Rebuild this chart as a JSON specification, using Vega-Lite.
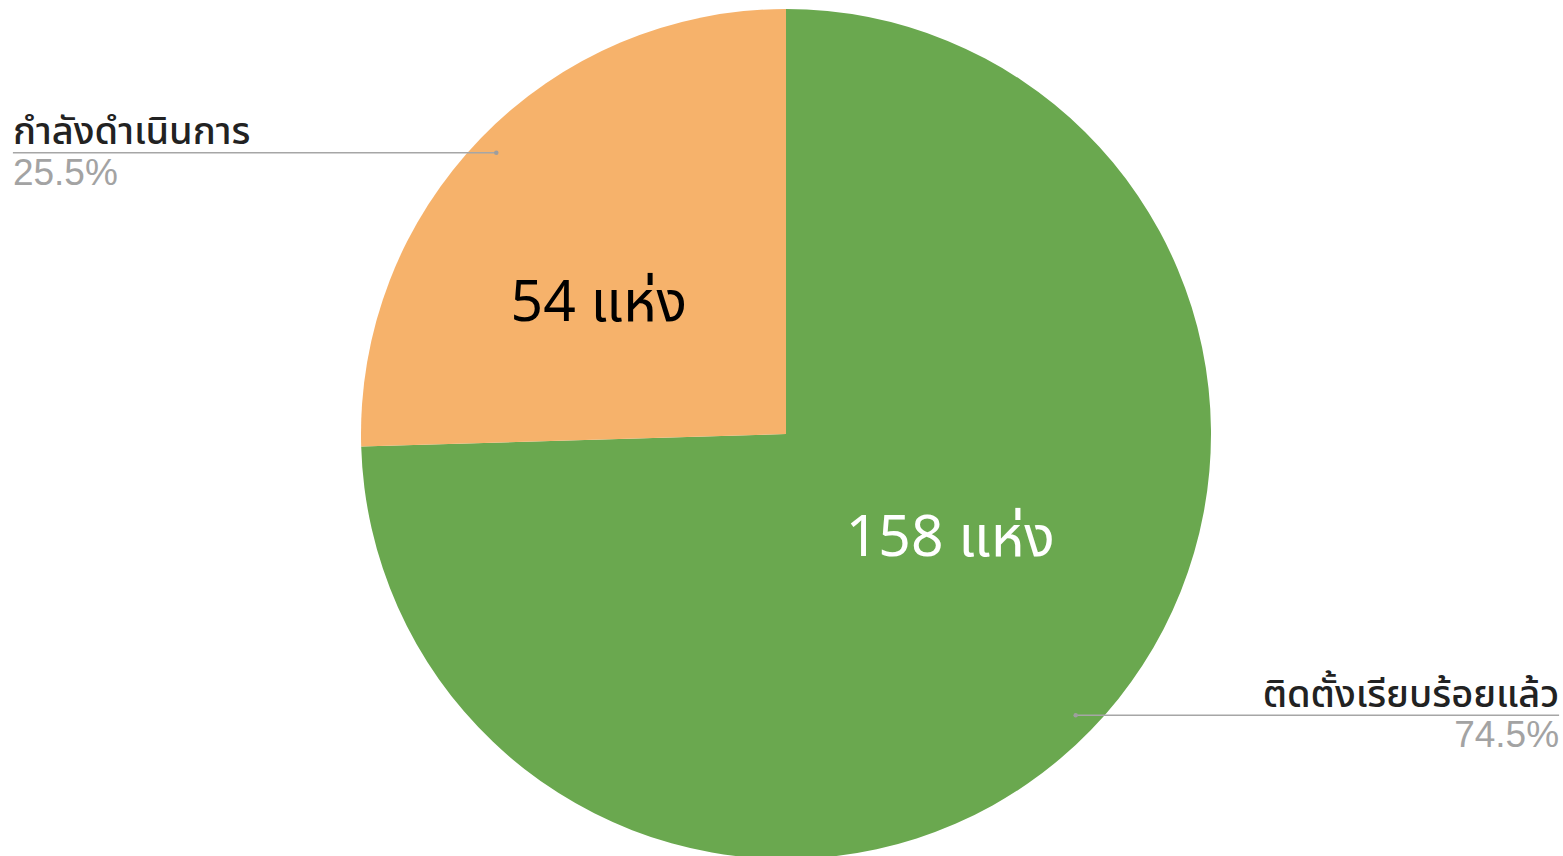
{
  "$schema": "https://vega.github.io/schema/vega-lite/v6.json",
  "autosize": {"type": "fit", "contains": "padding"},
  "width": 1563,
  "height": 856,
  "padding": {"left": 9, "top": 12, "right": 0, "bottom": 0},
  "background": "white",
  "view": {"stroke": null},
  "data": {"values": [
    {"status": "ติดตั้งเรียบร้อยแล้ว", "count": 158},
    {"status": "กำลังดำเนินการ", "count": 54}
  ]},
  "transform": [
    {"joinaggregate": [{"op": "sum", "field": "count", "as": "total"}]},
    {"window": [{"op": "sum", "field": "count", "as": "cum"}], "sort": [{"field": "count", "order": "descending"}], "frame": [null, 0]},
    {"calculate": "datum.count / datum.total", "as": "pct"},
    {"calculate": "(datum.cum - datum.count / 2) / datum.total * 2 * PI", "as": "mid"},
    {"calculate": "0.95 * sin(datum.mid)", "as": "lx"},
    {"calculate": "0.95 * cos(datum.mid)", "as": "ly"},
    {"calculate": "0.45 * sin(datum.mid)", "as": "ix"},
    {"calculate": "0.45 * cos(datum.mid)", "as": "iy"},
    {"calculate": "datum.lx < 0 ? -1.819 : 1.819", "as": "edge"},
    {"calculate": "datum.count + ' แห่ง'", "as": "label"}
  ],
  "encoding": {
    "x": {"type": "quantitative", "scale": {"domain": [-1.8282, 1.8282], "nice": false, "zero": false}, "axis": null},
    "y": {"type": "quantitative", "scale": {"domain": [-0.99294, 0.99294], "nice": false, "zero": false}, "axis": null}
  },
  "layer": [
    {
      "mark": {"type": "arc", "outerRadius": 425},
      "encoding": {
        "x": null,
        "y": null,
        "theta": {"field": "count", "type": "quantitative", "stack": true},
        "order": {"field": "count", "type": "quantitative", "sort": "descending"},
        "color": {"field": "status", "type": "nominal", "scale": {"domain": ["ติดตั้งเรียบร้อยแล้ว", "กำลังดำเนินการ"], "range": ["#6aa84f", "#f6b26b"]}, "legend": null}
      }
    },
    {
      "mark": {"type": "rule", "color": "#a6a6a6", "strokeWidth": 1.5},
      "encoding": {
        "x": {"field": "lx", "type": "quantitative"},
        "x2": {"field": "edge"},
        "y": {"field": "ly", "type": "quantitative"}
      }
    },
    {
      "mark": {"type": "point", "filled": true, "color": "#9e9e9e", "size": 20, "opacity": 1},
      "encoding": {
        "x": {"field": "lx", "type": "quantitative"},
        "y": {"field": "ly", "type": "quantitative"}
      }
    },
    {
      "transform": [{"filter": "datum.lx < 0"}],
      "mark": {"type": "text", "align": "left", "baseline": "alphabetic", "dy": -9, "fontSize": 38, "fontWeight": 500, "font": "Noto Sans Thai, Noto Sans, sans-serif", "color": "#222222"},
      "encoding": {
        "x": {"field": "edge", "type": "quantitative"},
        "y": {"field": "ly", "type": "quantitative"},
        "text": {"field": "status"}
      }
    },
    {
      "transform": [{"filter": "datum.lx >= 0"}],
      "mark": {"type": "text", "align": "right", "baseline": "alphabetic", "dy": -8, "fontSize": 38, "fontWeight": 500, "font": "Noto Sans Thai, Noto Sans, sans-serif", "color": "#222222"},
      "encoding": {
        "x": {"field": "edge", "type": "quantitative"},
        "y": {"field": "ly", "type": "quantitative"},
        "text": {"field": "status"}
      }
    },
    {
      "transform": [{"filter": "datum.lx < 0"}],
      "mark": {"type": "text", "align": "left", "baseline": "alphabetic", "dy": 32, "fontSize": 37, "font": "Liberation Sans, Arial, sans-serif", "color": "#a3a3a3"},
      "encoding": {
        "x": {"field": "edge", "type": "quantitative"},
        "y": {"field": "ly", "type": "quantitative"},
        "text": {"field": "pct", "type": "quantitative", "format": ".1%"}
      }
    },
    {
      "transform": [{"filter": "datum.lx >= 0"}],
      "mark": {"type": "text", "align": "right", "baseline": "alphabetic", "dy": 32, "fontSize": 37, "font": "Liberation Sans, Arial, sans-serif", "color": "#a3a3a3"},
      "encoding": {
        "x": {"field": "edge", "type": "quantitative"},
        "y": {"field": "ly", "type": "quantitative"},
        "text": {"field": "pct", "type": "quantitative", "format": ".1%"}
      }
    },
    {
      "transform": [{"filter": "datum.lx < 0"}],
      "mark": {"type": "text", "align": "center", "baseline": "middle", "dx": -50, "dy": 3, "fontSize": 57, "font": "Noto Sans Thai, Noto Sans, sans-serif", "color": "#000000"},
      "encoding": {
        "x": {"field": "ix", "type": "quantitative"},
        "y": {"field": "iy", "type": "quantitative"},
        "text": {"field": "label"}
      }
    },
    {
      "transform": [{"filter": "datum.lx >= 0"}],
      "mark": {"type": "text", "align": "center", "baseline": "middle", "dx": 27, "dy": -28, "fontSize": 57, "font": "Noto Sans Thai, Noto Sans, sans-serif", "color": "#ffffff"},
      "encoding": {
        "x": {"field": "ix", "type": "quantitative"},
        "y": {"field": "iy", "type": "quantitative"},
        "text": {"field": "label"}
      }
    }
  ]
}
